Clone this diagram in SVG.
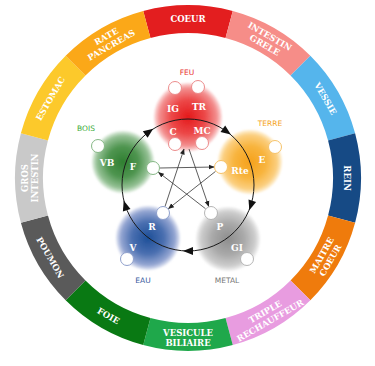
<svg xmlns="http://www.w3.org/2000/svg" width="375" height="366" viewBox="0 0 375 366">
<style>
.seg text{font-family:"DejaVu Serif","Liberation Serif",serif;font-weight:bold;font-size:8.5px;fill:#fff;text-anchor:middle}
.el text.in{font-family:"DejaVu Serif","Liberation Serif",serif;font-weight:bold;font-size:9px;fill:#fff;text-anchor:middle}
.lbl{font-family:"DejaVu Sans","Liberation Sans",sans-serif;font-size:7.5px;text-anchor:middle}
.disc{filter:url(#soft)}
.dot{fill:#fff;stroke-width:1}
.cyc{fill:none;stroke:#1a1a1a;stroke-width:1}
.star{stroke:#333;stroke-width:0.8;fill:none;marker-end:url(#ah)}
.head{fill:#111}
</style>
<defs>
<filter id="soft" x="-20%" y="-20%" width="140%" height="140%"><feGaussianBlur stdDeviation="1.3"/></filter>
<marker id="ah" viewBox="0 0 10 10" refX="9" refY="5" markerWidth="6" markerHeight="6" orient="auto" markerUnits="userSpaceOnUse"><path d="M0,1 L10,5 L0,9 Z" fill="#222"/></marker>
<radialGradient id="gRed"><stop offset="0" stop-color="#e4191b"/><stop offset="0.5" stop-color="#ec4848"/><stop offset="0.85" stop-color="#f39090"/><stop offset="1" stop-color="#f7b5b5" stop-opacity="0.5"/></radialGradient>
<radialGradient id="gOra"><stop offset="0" stop-color="#f6a11c"/><stop offset="0.5" stop-color="#f8b43e"/><stop offset="0.85" stop-color="#fbcf80"/><stop offset="1" stop-color="#fde0a8" stop-opacity="0.5"/></radialGradient>
<radialGradient id="gGry"><stop offset="0" stop-color="#8e8e8e"/><stop offset="0.5" stop-color="#a9a9a9"/><stop offset="0.85" stop-color="#cdcdcd"/><stop offset="1" stop-color="#e0e0e0" stop-opacity="0.5"/></radialGradient>
<radialGradient id="gBlu"><stop offset="0" stop-color="#1d4f98"/><stop offset="0.5" stop-color="#4a6fb0"/><stop offset="0.85" stop-color="#95a6d2"/><stop offset="1" stop-color="#bcc6e4" stop-opacity="0.5"/></radialGradient>
<radialGradient id="gGrn"><stop offset="0" stop-color="#2f7f31"/><stop offset="0.5" stop-color="#4f9550"/><stop offset="0.85" stop-color="#95c195"/><stop offset="1" stop-color="#bcd9bc" stop-opacity="0.5"/></radialGradient>
</defs>

<g id="ring">
<g id="seg-coeur" class="seg"><path d="M143.23,10.90 A173,173 0 0 1 232.77,10.90 L225.53,37.94 A145,145 0 0 0 150.47,37.94 Z" fill="#e31e1f"/><text transform="translate(188,19) rotate(0)" y="3.2">COEUR</text></g>
<g id="seg-intestin-grele" class="seg"><path d="M232.77,10.90 A173,173 0 0 1 310.33,55.67 L290.53,75.47 A145,145 0 0 0 225.53,37.94 Z" fill="#f68d88"/><text transform="translate(267.5,40.3) rotate(30)"><tspan x="0" y="-1.5">INTESTIN</tspan><tspan x="0" y="8.5">GRELE</tspan></text></g>
<g id="seg-vessie" class="seg"><path d="M310.33,55.67 A173,173 0 0 1 355.10,133.23 L328.06,140.47 A145,145 0 0 0 290.53,75.47 Z" fill="#55b5ec"/><text transform="translate(325.7,98.5) rotate(60)" y="3.2">VESSIE</text></g>
<g id="seg-rein" class="seg"><path d="M355.10,133.23 A173,173 0 0 1 355.10,222.77 L328.06,215.53 A145,145 0 0 0 328.06,140.47 Z" fill="#164a85"/><text transform="translate(347,178) rotate(90)" y="3.2">REIN</text></g>
<g id="seg-maitre-coeur" class="seg"><path d="M355.10,222.77 A173,173 0 0 1 310.33,300.33 L290.53,280.53 A145,145 0 0 0 328.06,215.53 Z" fill="#ef7b0c"/><text transform="translate(325.7,257.5) rotate(-60)"><tspan x="0" y="-1.5">MAITRE</tspan><tspan x="0" y="8.5">COEUR</tspan></text></g>
<g id="seg-triple-rechauffeur" class="seg"><path d="M310.33,300.33 A173,173 0 0 1 232.77,345.10 L225.53,318.06 A145,145 0 0 0 290.53,280.53 Z" fill="#e89ce0"/><text transform="translate(267.5,315.7) rotate(-30)"><tspan x="0" y="-1.5">TRIPLE</tspan><tspan x="0" y="8.5">RECHAUFFEUR</tspan></text></g>
<g id="seg-vesicule-biliaire" class="seg"><path d="M232.77,345.10 A173,173 0 0 1 143.23,345.10 L150.47,318.06 A145,145 0 0 0 225.53,318.06 Z" fill="#1fa84b"/><text transform="translate(188,337) rotate(0)"><tspan x="0" y="-1.5">VESICULE</tspan><tspan x="0" y="8.5">BILIAIRE</tspan></text></g>
<g id="seg-foie" class="seg"><path d="M143.23,345.10 A173,173 0 0 1 65.67,300.33 L85.47,280.53 A145,145 0 0 0 150.47,318.06 Z" fill="#097913"/><text transform="translate(108.5,315.7) rotate(30)" y="3.2">FOIE</text></g>
<g id="seg-poumon" class="seg"><path d="M65.67,300.33 A173,173 0 0 1 20.90,222.77 L47.94,215.53 A145,145 0 0 0 85.47,280.53 Z" fill="#5a5a5a"/><text transform="translate(50.3,257.5) rotate(60)" y="3.2">POUMON</text></g>
<g id="seg-gros-intestin" class="seg"><path d="M20.90,222.77 A173,173 0 0 1 20.90,133.23 L47.94,140.47 A145,145 0 0 0 47.94,215.53 Z" fill="#c9c9c9"/><text transform="translate(29,178) rotate(-90)"><tspan x="0" y="-1.5">GROS</tspan><tspan x="0" y="8.5">INTESTIN</tspan></text></g>
<g id="seg-estomac" class="seg"><path d="M20.90,133.23 A173,173 0 0 1 65.67,55.67 L85.47,75.47 A145,145 0 0 0 47.94,140.47 Z" fill="#fcc92b"/><text transform="translate(50.3,98.5) rotate(-60)" y="3.2">ESTOMAC</text></g>
<g id="seg-rate-pancreas" class="seg"><path d="M65.67,55.67 A173,173 0 0 1 143.23,10.90 L150.47,37.94 A145,145 0 0 0 85.47,75.47 Z" fill="#fba818"/><text transform="translate(108.5,40.3) rotate(-30)"><tspan x="0" y="-1.5">RATE</tspan><tspan x="0" y="8.5">PANCREAS</tspan></text></g>
</g>

<g id="feu" class="el">
<circle class="disc" cx="188" cy="117" r="34" fill="url(#gRed)"/>
<text class="in" x="173" y="111.5">IG</text><text class="in" x="199" y="109.5">TR</text>
<text class="in" x="173" y="134.5">C</text><text class="in" x="202" y="133.5">MC</text>
<text class="lbl" x="187" y="75" fill="#e8312f">FEU</text>
</g>
<g id="terre" class="el">
<circle class="disc" cx="250" cy="162" r="32" fill="url(#gOra)"/>
<text class="in" x="262" y="162.5">E</text><text class="in" x="240" y="173.5">Rte</text>
<text class="lbl" x="270" y="126" fill="#f5a31a">TERRE</text>
</g>
<g id="metal" class="el">
<circle class="disc" cx="228" cy="239" r="32" fill="url(#gGry)"/>
<text class="in" x="220" y="229.5">P</text><text class="in" x="237" y="250.5">GI</text>
<text class="lbl" x="227" y="283" fill="#777">METAL</text>
</g>
<g id="eau" class="el">
<circle class="disc" cx="148" cy="238" r="32" fill="url(#gBlu)"/>
<text class="in" x="152" y="229.5">R</text><text class="in" x="133" y="250.5">V</text>
<text class="lbl" x="143" y="283" fill="#3a5ba0">EAU</text>
</g>
<g id="bois" class="el">
<circle class="disc" cx="123" cy="162" r="31" fill="url(#gGrn)"/>
<text class="in" x="107" y="165.5">VB</text><text class="in" x="133" y="169.5">F</text>
<text class="lbl" x="86" y="131" fill="#3aaa35">BOIS</text>
</g>

<g id="connectors">
<circle class="cyc" cx="188" cy="185" r="66"/>
<polygon class="head" points="153.2,128.7 142.8,131.2 147.6,137.7"/>
<polygon class="head" points="230.8,134.5 225.2,125.5 220.5,131.9"/>
<polygon class="head" points="249.3,210.2 256.1,201.9 248.5,199.4"/>
<polygon class="head" points="183,251 193,255 193,247"/>
<polygon class="head" points="123.7,200.6 122.9,211.4 130.5,209.0"/>
<line class="star" x1="160" y1="168" x2="214" y2="167"/>
<line class="star" x1="215.5" y1="171.4" x2="168.5" y2="208.6"/>
<line class="star" x1="165" y1="206.5" x2="184" y2="149"/>
<line class="star" x1="189" y1="149" x2="208.7" y2="206.4"/>
<line class="star" x1="205.5" y1="208.7" x2="158.5" y2="172.3"/>
</g>

<g id="ports">
<circle class="dot" cx="175" cy="88" r="6.5" stroke="#ec8c8c"/>
<circle class="dot" cx="198" cy="87" r="6.5" stroke="#ec8c8c"/>
<circle class="dot" cx="175" cy="144" r="6.5" stroke="#ec8c8c"/>
<circle class="dot" cx="202" cy="143" r="6.5" stroke="#ec8c8c"/>
<circle class="dot" cx="275" cy="147" r="6.5" stroke="#f6c36a"/>
<circle class="dot" cx="221" cy="167" r="6.5" stroke="#f6c36a"/>
<circle class="dot" cx="211" cy="213" r="6.5" stroke="#b5b5b5"/>
<circle class="dot" cx="247" cy="259" r="6.5" stroke="#b5b5b5"/>
<circle class="dot" cx="163" cy="213" r="6.5" stroke="#8fa0cc"/>
<circle class="dot" cx="127" cy="259" r="6.5" stroke="#8fa0cc"/>
<circle class="dot" cx="98" cy="146" r="6.5" stroke="#86b886"/>
<circle class="dot" cx="153" cy="168" r="6.5" stroke="#86b886"/>
</g>
</svg>
